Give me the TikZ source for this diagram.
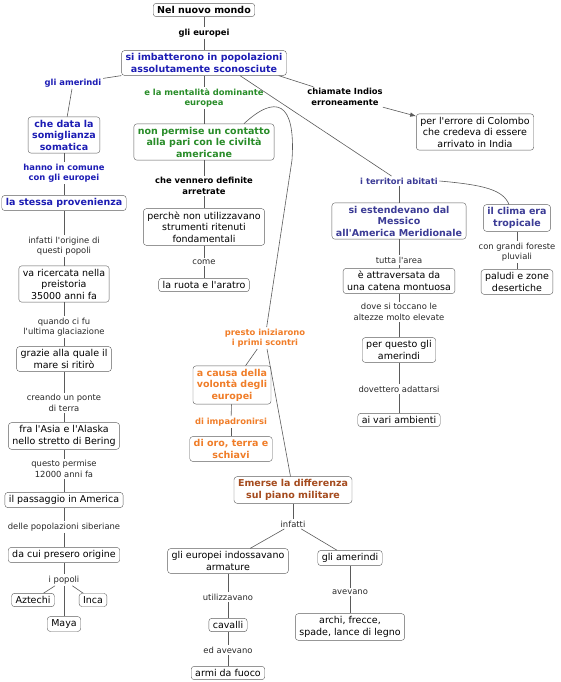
\documentclass[tikz,border=0pt]{standalone}
\usepackage{fontspec}
\setmainfont{DejaVu Sans}[Ligatures=TeXOff]
\usetikzlibrary{positioning,calc,arrows.meta}
\definecolor{mapblue}{RGB}{28,28,180}
\definecolor{mapgreen}{RGB}{40,140,40}
\definecolor{mapslate}{RGB}{60,60,150}
\definecolor{maporange}{RGB}{240,125,40}
\definecolor{mapbrown}{RGB}{165,75,30}
\definecolor{boxgray}{RGB}{95,95,95}
\definecolor{linegray}{RGB}{90,90,90}
\definecolor{lblgray}{RGB}{40,40,40}

\begin{document}
\begin{tikzpicture}[
  x=1pt, y=-1pt,
  cpt/.style={rectangle, draw=boxgray, fill=white, rounded corners=3pt, align=center,
              inner xsep=4pt, inner ysep=3pt, text=black, font=\fontsize{9.5}{11.5}\selectfont},
  cptb/.style={cpt, font=\fontsize{9.5}{11.5}\selectfont\bfseries},
  lnk/.style={align=center, inner sep=1.5pt, text=lblgray, font=\fontsize{8.4}{10.5}\selectfont},
  lnkb/.style={lnk, text=black, font=\fontsize{8.4}{10.5}\selectfont\bfseries},
  ln/.style={draw=linegray, line width=0.6pt},
  ar/.style={ln, -{Latex[length=6pt,width=4.5pt]}}
]
\useasboundingbox (0,0) rectangle (560,682);

% Top: root and first concept
\node[cptb] (root) at (204,10) {Nel nuovo mondo};
\node[lnkb] (leur) at (204,33) {gli europei};
\node[cptb, text=mapblue] (imbatt) at (204,63) {si imbatterono in popolazioni\\assolutamente sconosciute};

% Left column: common origin
\node[lnkb, text=mapblue] (lamer) at (73,83) {gli amerindi};
\node[cptb, text=mapblue] (somat) at (64,135) {che data la\\somiglianza\\somatica};
\node[lnkb, text=mapblue] (lcomune) at (64,173) {hanno in comune\\con gli europei};
\node[cptb, text=mapblue] (stessa) at (64,203) {la stessa provenienza};
\node[lnk] (lorig) at (64,246) {infatti l'origine di\\questi popoli};
\node[cpt] (ricerc) at (64,284) {va ricercata nella\\preistoria\\35000 anni fa};
\node[lnk] (lglac) at (64,327) {quando ci fu\\l'ultima glaciazione};
\node[cpt] (grazie) at (64,359) {grazie alla quale il\\mare si ritirò};
\node[lnk] (lponte) at (64,403) {creando un ponte\\di terra};
\node[cpt] (bering) at (64,436) {fra l'Asia e l'Alaska\\nello stretto di Bering};
\node[lnk] (lperm) at (64,469) {questo permise\\12000 anni fa};
\node[cpt] (passag) at (64,500) {il passaggio in America};
\node[lnk] (lsiber) at (64,527) {delle popolazioni siberiane};
\node[cpt] (origine) at (64,555) {da cui presero origine};
\node[lnk] (lpopoli) at (64,580) {i popoli};
\node[cpt] (aztechi) at (33,600) {Aztechi};
\node[cpt] (inca) at (93,600) {Inca};
\node[cpt] (maya) at (64,624) {Maya};

% Middle column: european mentality
\node[lnkb, text=mapgreen] (lment) at (204,98) {e la mentalità dominante\\europea};
\node[cptb, text=mapgreen] (nonperm) at (204,142) {non permise un contatto\\alla pari con le civiltà\\americane};
\node[lnkb] (larretr) at (204,186) {che vennero definite\\arretrate};
\node[cpt] (strum) at (204,227) {perchè non utilizzavano\\strumenti ritenuti\\fondamentali};
\node[lnk] (lcome) at (204,262) {come};
\node[cpt] (ruota) at (204,285) {la ruota e l'aratro};

% Right: Indios and the territories
\node[lnkb] (lindios) at (345,97) {chiamate Indios\\erroneamente};
\node[cpt] (colombo) at (475,132) {per l'errore di Colombo\\che credeva di essere\\arrivato in India};
\node[lnkb, text=mapslate] (lterr) at (399,181) {i territori abitati};
\node[cptb, text=mapslate] (estend) at (399,221) {si estendevano dal\\Messico\\all'America Meridionale};
\node[cptb, text=mapslate] (clima) at (517,218) {il clima era\\tropicale};
\node[lnk] (lforeste) at (517,252) {con grandi foreste\\pluviali};
\node[cpt] (paludi) at (517,282) {paludi e zone\\desertiche};
\node[lnk] (ltutta) at (399,260) {tutta l'area};
\node[cpt] (catena) at (399,281) {è attraversata da\\una catena montuosa};
\node[lnk] (laltezze) at (399,312) {dove si toccano le\\altezze molto elevate};
\node[cpt] (perquesto) at (399,350) {per questo gli\\amerindi};
\node[lnk] (ladatt) at (399,389) {dovettero adattarsi};
\node[cpt] (ambienti) at (399,420) {ai vari ambienti};

% Lower middle: the clashes
\node[lnkb, text=maporange] (lscontri) at (265,338) {presto iniziarono\\i primi scontri};
\node[cptb, text=maporange] (volonta) at (232,385) {a causa della\\volontà degli\\europei};
\node[lnkb, text=maporange] (limpadr) at (231,422) {di impadronirsi};
\node[cptb, text=maporange] (dioro) at (231,449) {di oro, terra e\\schiavi};
\node[cptb, text=mapbrown] (militare) at (293,490) {Emerse la differenza\\sul piano militare};
\node[lnk] (linfatti) at (293,524) {infatti};
\node[cpt] (armature) at (228,561) {gli europei indossavano\\armature};
\node[lnk] (lutil) at (228,597) {utilizzavano};
\node[cpt] (cavalli) at (228,625) {cavalli};
\node[lnk] (lavevano) at (228,650) {ed avevano};
\node[cpt] (armi) at (228,673) {armi da fuoco};
\node[cpt] (amer) at (350,558) {gli amerindi};
\node[lnk] (lavev) at (350,592) {avevano};
\node[cpt] (archi) at (350,627) {archi, frecce,\\spade, lance di legno};

\coordinate (bend) at (292,160);

% Connectors, top
\draw[ln] (root) -- (leur);  \draw[ln] (leur) -- (imbatt);
\draw[ln] (imbatt) -- (lamer); \draw[ln] (lamer) -- (somat);
\draw[ln] (imbatt) -- (lment); \draw[ln] (lment) -- (nonperm);
\draw[ln] ([xshift=-8pt]imbatt.south east) -- (lindios);
\draw[ar] (lindios) -- (colombo);
\draw[ln] ([xshift=36pt]imbatt.south) -- (lterr);

% Left column
\draw[ln] (somat) -- (lcomune);   \draw[ln] (lcomune) -- (stessa);
\draw[ln] (stessa) -- (lorig);    \draw[ln] (lorig) -- (ricerc);
\draw[ln] (ricerc) -- (lglac);    \draw[ln] (lglac) -- (grazie);
\draw[ln] (grazie) -- (lponte);   \draw[ln] (lponte) -- (bering);
\draw[ln] (bering) -- (lperm);    \draw[ln] (lperm) -- (passag);
\draw[ln] (passag) -- (lsiber);   \draw[ln] (lsiber) -- (origine);
\draw[ln] (origine) -- (lpopoli);
\draw[ln] (lpopoli) -- (aztechi); \draw[ln] (lpopoli) -- (inca); \draw[ln] (lpopoli) -- (maya);

% Middle column
\draw[ln] (nonperm) -- (larretr); \draw[ln] (larretr) -- (strum);
\draw[ln] (strum) -- (lcome);     \draw[ln] (lcome) -- (ruota);
\draw[ln] ([xshift=40pt]nonperm.north) .. controls (275,95) and (296,100) .. (bend) -- (lscontri);
\draw[ln] (lscontri) -- (volonta); \draw[ln] (volonta) -- (limpadr); \draw[ln] (limpadr) -- (dioro);
\draw[ln] (lscontri) -- (militare); \draw[ln] (militare) -- (linfatti);
\draw[ln] (linfatti) -- (armature); \draw[ln] (linfatti) -- (amer);
\draw[ln] (armature) -- (lutil);  \draw[ln] (lutil) -- (cavalli);
\draw[ln] (cavalli) -- (lavevano); \draw[ln] (lavevano) -- (armi);
\draw[ln] (amer) -- (lavev);      \draw[ln] (lavev) -- (archi);

% Right column
\draw[ln] (lterr) -- (estend);
\draw[ln] (lterr.east) .. controls (485,185) and (503,190) .. ([xshift=-8pt]clima.north);
\draw[ln] (clima) -- (lforeste);  \draw[ln] (lforeste) -- (paludi);
\draw[ln] (estend) -- (ltutta);   \draw[ln] (ltutta) -- (catena);
\draw[ln] (catena) -- (laltezze); \draw[ln] (laltezze) -- (perquesto);
\draw[ln] (perquesto) -- (ladatt); \draw[ln] (ladatt) -- (ambienti);
\end{tikzpicture}
\end{document}
